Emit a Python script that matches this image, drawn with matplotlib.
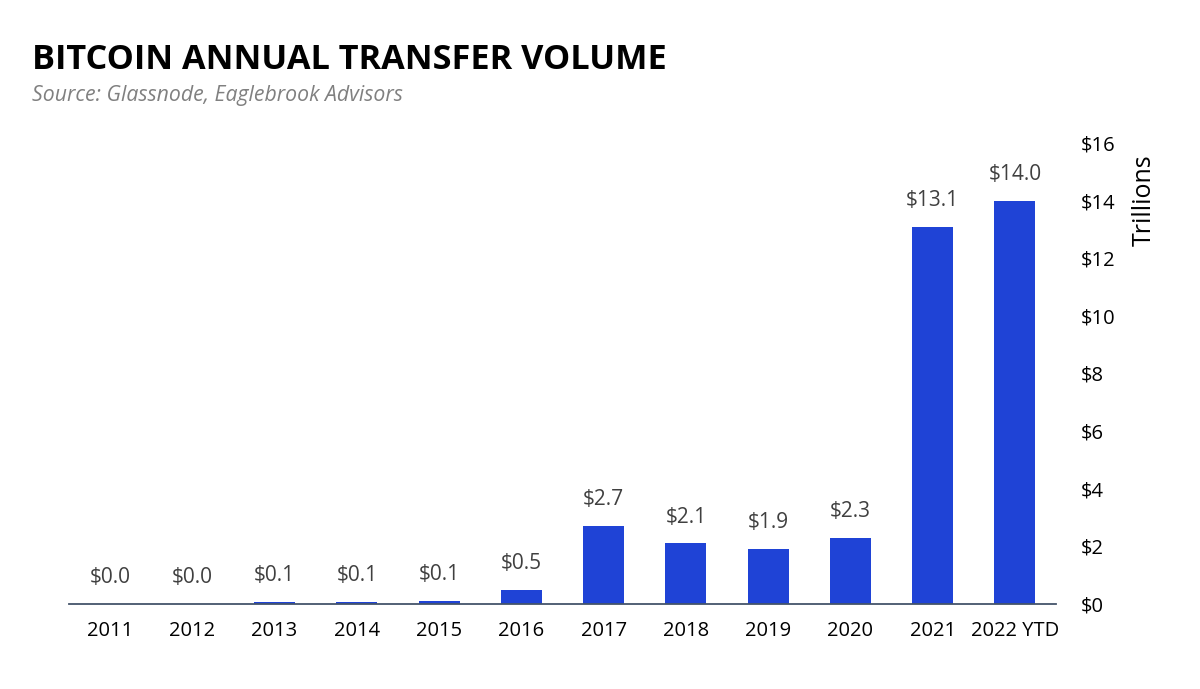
import matplotlib.pyplot as plt
from matplotlib.ticker import FuncFormatter

years = ["2011", "2012", "2013", "2014", "2015", "2016", "2017", "2018",
         "2019", "2020", "2021", "2022 YTD"]
volume = [0.0, 0.0, 0.06, 0.08, 0.1, 0.5, 2.7, 2.1, 1.9, 2.3, 13.1, 14.0]
y_ticks = [0, 2, 4, 6, 8, 10, 12, 14, 16]

plt.rcParams['font.family'] = ['Open Sans', 'DejaVu Sans']

fig = plt.figure(figsize=(12, 6.89), dpi=100)
ax = fig.add_axes([0.0575, 0.1234, 0.8225, 0.6691])

x = range(len(years))
bars = ax.bar(x, volume, width=0.5, color='#1f43d6', zorder=2)
for xi, v in zip(x, volume):
    ax.text(xi, v + 0.55, f"${v:.1f}", ha='center', va='bottom',
            fontsize=15, color='#404040')

ax.set_xlim(-0.5, len(years) - 0.5)
ax.set_ylim(0, 16)
ax.set_xticks(list(x))
ax.set_xticklabels(years, fontsize=14.5)
ax.yaxis.tick_right()
ax.set_yticks(y_ticks)
ax.yaxis.set_major_formatter(FuncFormatter(lambda v, p: f"${v:.0f}"))
ax.tick_params(axis='y', labelsize=14.5, length=0, pad=18)
ax.tick_params(axis='x', length=0, pad=12)

for s in ['top', 'left', 'right']:
    ax.spines[s].set_visible(False)
ax.spines['bottom'].set_color('#44546a')
ax.spines['bottom'].set_linewidth(1.3)

fig.text(0.9535, 0.71, "Trillions", fontsize=18, rotation=90,
         ha='center', va='center', color='black')
fig.text(0.027, 0.9, "BITCOIN ANNUAL TRANSFER VOLUME", fontsize=24.7,
         fontweight='bold', color='black')
fig.text(0.027, 0.853, "Source: Glassnode, Eaglebrook Advisors", fontsize=15.3,
         style='italic', color='#808080')

fig.savefig('out.png', dpi=100, facecolor='white')
